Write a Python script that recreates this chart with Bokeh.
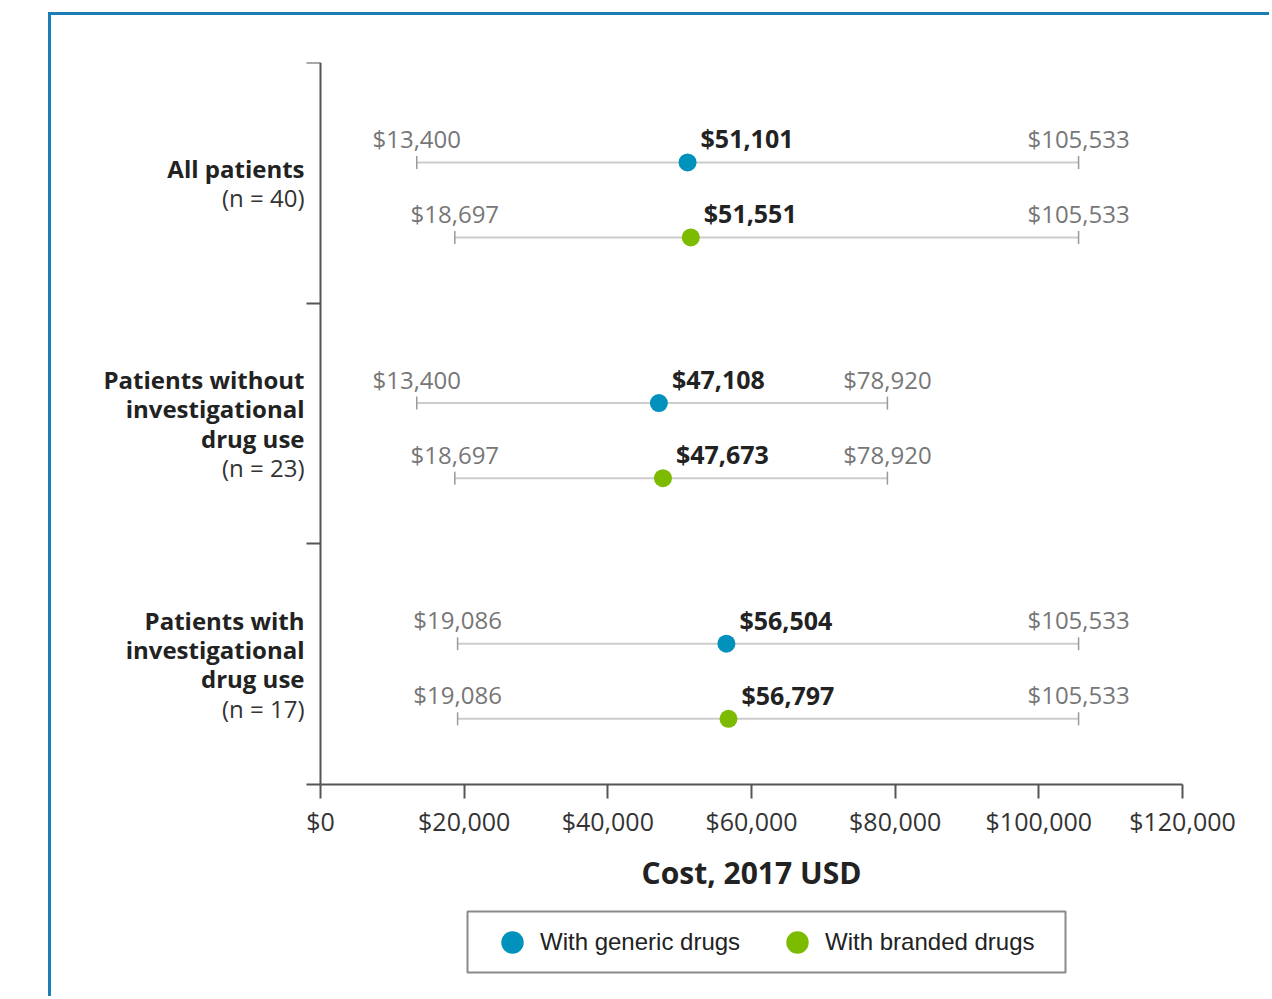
import math
from bokeh.plotting import figure
from bokeh.models import (Legend, LegendItem, FixedTicker, NumeralTickFormatter,
                          LinearAxis, Range1d, BoxAnnotation)
from bokeh.core.properties import value
from bokeh.embed import file_html
from bokeh.resources import INLINE

# ---------------- data ----------------
group_titles = [["All patients"],
                ["Patients without", "investigational", "drug use"],
                ["Patients with", "investigational", "drug use"]]
group_n = ["(n = 40)", "(n = 23)", "(n = 17)"]

generic_low = [13400, 13400, 19086]
generic_median = [51101, 47108, 56504]
generic_high = [105533, 78920, 105533]

branded_low = [18697, 18697, 19086]
branded_median = [51551, 47673, 56797]
branded_high = [105533, 78920, 105533]

x_ticks = [0, 20000, 40000, 60000, 80000, 100000, 120000]
series_names = ["With generic drugs", "With branded drugs"]

# ---------------- style / geometry ----------------
BLUE = "#0092bc"
GREEN = "#7cbb00"
FONT = "Open Sans"
N_GROUPS = len(group_titles)
X_MAX = x_ticks[-1]

W, H = 1221, 984
BORDER_L, BORDER_T = 40, 47
AXIS_X = 269              # canvas px where x = 0 sits
X_MAX_PX = 1131           # canvas px where x = X_MAX sits
AXIS_Y = 769              # canvas px where y = 0 sits
x_scale = X_MAX / (X_MAX_PX - AXIS_X)
x_start = -(AXIS_X - BORDER_L) * x_scale
x_end = X_MAX + (W - X_MAX_PX) * x_scale
px_per_unit = (AXIS_Y - BORDER_T) / N_GROUPS
y_start = -(H - AXIS_Y) / px_per_unit

def sx_to_data(px):   # canvas px -> data x
    return (px - AXIS_X) * x_scale

def sy_to_data(py):   # canvas px -> data y
    return (AXIS_Y - py) / px_per_unit

p = figure(width=W, height=H, x_range=Range1d(x_start, x_end),
           y_range=Range1d(y_start, N_GROUPS),
           output_backend="svg", toolbar_location=None,
           x_axis_location=None, y_axis_location=None,
           min_border_left=BORDER_L, min_border_right=0,
           min_border_top=BORDER_T, min_border_bottom=0)
p.title.visible = False
p.grid.visible = False
p.outline_line_color = None
p.background_fill_color = "white"
p.border_fill_color = "white"
p.styles = {"margin-left": "48px", "margin-top": "12px",
            "border-left": "3px solid #1b7fb5", "border-top": "3px solid #1b7fb5"}

yaxis = LinearAxis(fixed_location=0, bounds=(0, N_GROUPS),
                   ticker=FixedTicker(ticks=list(range(N_GROUPS + 1))),
                   major_label_overrides={i: "" for i in range(N_GROUPS + 1)},
                   major_label_standoff=0)
xaxis = LinearAxis(fixed_location=0, bounds=(0, X_MAX),
                   ticker=FixedTicker(ticks=x_ticks),
                   formatter=NumeralTickFormatter(format="$0,0"))
p.add_layout(yaxis, "left")
p.add_layout(xaxis, "below")

for ax in (xaxis, yaxis):
    ax.axis_line_color = "#555555"
    ax.axis_line_width = 2
    ax.major_tick_line_color = "#555555"
    ax.major_tick_line_width = 2
    ax.major_tick_out = 14
    ax.major_tick_in = 0
    ax.minor_tick_line_color = None
xaxis.major_label_text_font = FONT
xaxis.major_label_text_font_size = "25px"
xaxis.major_label_text_color = "#333333"
xaxis.major_label_standoff = 5
xaxis.axis_label = "Cost, 2017 USD"
xaxis.axis_label_text_font = FONT
xaxis.axis_label_text_font_style = "bold"
xaxis.axis_label_text_font_size = "30px"
xaxis.axis_label_text_color = "#222222"
xaxis.axis_label_standoff = 11

# row positions (within each band, measured from its top)
def rows(offset):
    return [N_GROUPS - i - offset for i in range(N_GROUPS)]

y_generic = rows(0.415)
y_branded = rows(0.727)

def fmt(v):
    return "${:,}".format(v)

renderers = []
for low, med, high, ys, col in [(generic_low, generic_median, generic_high, y_generic, BLUE),
                                (branded_low, branded_median, branded_high, y_branded, GREEN)]:
    p.segment(x0=low, y0=ys, x1=high, y1=ys, line_color="#cccccc", line_width=2)
    p.scatter(x=low + high, y=ys + ys, marker="dash", angle=math.pi / 2, size=13,
              line_color="#9a9a9a", line_width=1.5)
    r = p.scatter(x=med, y=ys, size=18, fill_color=col, line_color=None)
    renderers.append(r)
    p.text(x=low + high, y=ys + ys, text=[fmt(v) for v in low + high],
           text_align="center", text_baseline="middle", y_offset=-24,
           text_font=value(FONT), text_font_size="24px", text_color="#777777")
    p.text(x=med, y=ys, text=[fmt(v) for v in med],
           text_align="left", text_baseline="middle", x_offset=13, y_offset=-24,
           text_font=value(FONT), text_font_size="25px", text_font_style="bold",
           text_color="#222222")

# category labels, right-aligned left of the axis
line_gap = 29.3 / px_per_unit
bold_txt, bold_y, n_txt, n_y = [], [], [], []
for i, (title_lines, ntext) in enumerate(zip(group_titles, group_n)):
    k_n = len(title_lines) + 1
    center = N_GROUPS - i - 0.5
    for k, t in enumerate(title_lines):
        bold_txt.append(t)
        bold_y.append(center + ((k_n - 1) / 2 - k) * line_gap)
    n_txt.append(ntext)
    n_y.append(center - (k_n - 1) / 2 * line_gap)

p.text(x=[0] * len(bold_txt), y=bold_y, text=bold_txt, x_offset=-16,
       text_align="right", text_baseline="middle", text_font=value(FONT),
       text_font_size="24px", text_font_style="bold", text_color="#222222")
p.text(x=[0] * len(n_txt), y=n_y, text=n_txt, x_offset=-16,
       text_align="right", text_baseline="middle", text_font=value(FONT),
       text_font_size="24px", text_color="#333333")

# legend frame (canvas px) and legend
LEG_L, LEG_R, LEG_T, LEG_B = 416, 1014, 896, 957
p.add_layout(BoxAnnotation(left=sx_to_data(LEG_L), right=sx_to_data(LEG_R),
                           top=sy_to_data(LEG_T), bottom=sy_to_data(LEG_B),
                           fill_color="white", fill_alpha=1.0,
                           line_color="#8a8a8a", line_alpha=1.0, line_width=2))
GLYPH = 56
legend = Legend(items=[LegendItem(label=series_names[0], renderers=[renderers[0]]),
                       LegendItem(label=series_names[1], renderers=[renderers[1]])],
                orientation="horizontal",
                location=(LEG_L + 17 - BORDER_L, H - (LEG_T + LEG_B) / 2 - GLYPH / 2),
                glyph_width=GLYPH, glyph_height=GLYPH, label_standoff=0, spacing=29,
                padding=0, margin=0, border_line_color=None, background_fill_alpha=0,
                label_text_font="Liberation Sans", label_text_font_size="24px",
                label_text_color="#222222")
p.add_layout(legend)

open("out.html", "w").write(file_html(p, INLINE))
